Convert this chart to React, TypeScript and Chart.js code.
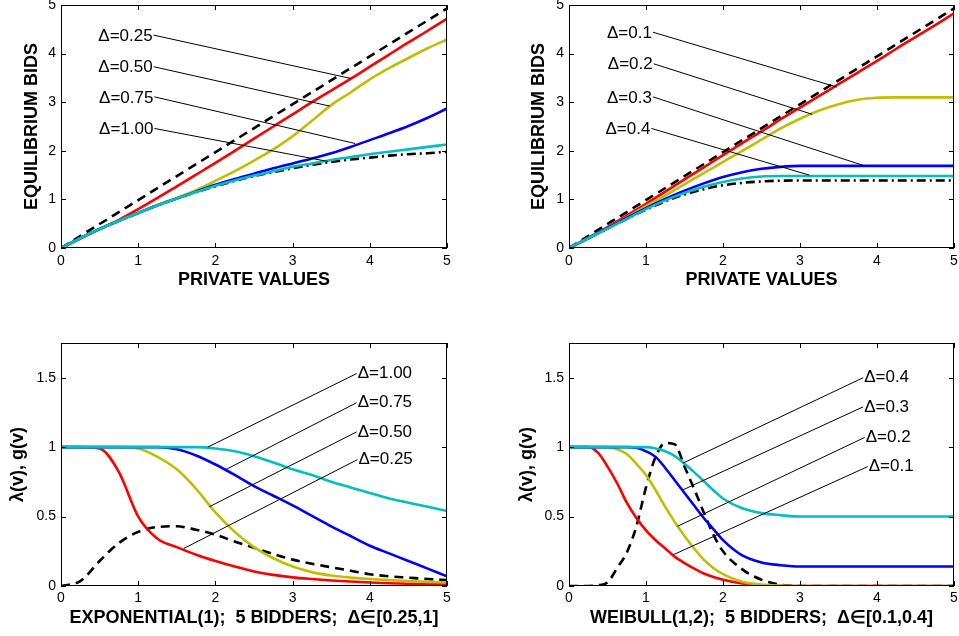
import React, { useEffect, useRef } from "react";
import { Chart, registerables } from "chart.js";
Chart.register(...registerables);

const FONT = "'Liberation Sans', Arial, Helvetica, sans-serif";

// ---------- ticks ----------
const valueTicks = [0, 1, 2, 3, 4, 5];
const bidTicks = [0, 1, 2, 3, 4, 5];
const lambdaTicks = [0, 0.5, 1, 1.5];

// ---------- shared x grids ----------
const gridX = [0, 0.25, 0.5, 0.75, 1, 1.25, 1.5, 1.75, 2, 2.25, 2.5, 2.75, 3, 3.25, 3.5, 3.75, 4, 4.25, 4.5, 4.75, 5];
const diagX = [0, 5];
const diagY = [0, 4.93];

// ---------- top-left: exponential bids ----------
const expBidBase = [0, 0.2, 0.39, 0.56, 0.72, 0.88, 1.02, 1.15, 1.27, 1.38, 1.48, 1.56, 1.64, 1.71, 1.77, 1.82, 1.86, 1.9, 1.93, 1.95, 1.98];
const expBid100 = [0, 0.2, 0.39, 0.56, 0.72, 0.88, 1.02, 1.15, 1.28, 1.39, 1.49, 1.58, 1.67, 1.74, 1.81, 1.87, 1.93, 1.98, 2.03, 2.08, 2.13];
const expBid075 = [0, 0.2, 0.39, 0.56, 0.72, 0.88, 1.02, 1.16, 1.3, 1.42, 1.53, 1.64, 1.74, 1.84, 1.95, 2.08, 2.22, 2.36, 2.51, 2.68, 2.87];
const expBid050 = [0, 0.2, 0.39, 0.56, 0.72, 0.88, 1.03, 1.19, 1.38, 1.58, 1.8, 2.03, 2.3, 2.62, 2.94, 3.2, 3.47, 3.7, 3.91, 4.11, 4.29];
const expBid025 = [0, 0.2, 0.39, 0.58, 0.8, 1.03, 1.27, 1.51, 1.75, 2.0, 2.25, 2.5, 2.75, 3.0, 3.24, 3.48, 3.73, 3.98, 4.23, 4.47, 4.72];

// ---------- top-right: weibull bids ----------
const weiBidBase = [0, 0.2, 0.4, 0.6, 0.79, 0.96, 1.1, 1.21, 1.29, 1.34, 1.37, 1.385, 1.39, 1.39, 1.39, 1.39, 1.39, 1.39, 1.39, 1.39, 1.39];
const weiBid04 = [0, 0.2, 0.4, 0.6, 0.8, 0.98, 1.13, 1.26, 1.36, 1.43, 1.47, 1.48, 1.48, 1.48, 1.48, 1.48, 1.48, 1.48, 1.48, 1.48, 1.48];
const weiBid03 = [0, 0.2, 0.41, 0.62, 0.82, 1.01, 1.18, 1.33, 1.46, 1.56, 1.63, 1.67, 1.69, 1.69, 1.69, 1.69, 1.69, 1.69, 1.69, 1.69, 1.69];
const weiBid02 = [0, 0.2, 0.41, 0.63, 0.86, 1.08, 1.31, 1.54, 1.77, 2.0, 2.23, 2.46, 2.66, 2.83, 2.96, 3.05, 3.09, 3.1, 3.1, 3.1, 3.1];
const weiBid01 = [0, 0.21, 0.43, 0.67, 0.91, 1.16, 1.41, 1.66, 1.91, 2.16, 2.4, 2.65, 2.89, 3.13, 3.37, 3.61, 3.85, 4.1, 4.34, 4.58, 4.83];

// ---------- bottom-left: exponential lambda / density ----------
const expG = [0, 0.035, 0.18, 0.31, 0.39, 0.425, 0.43, 0.405, 0.37, 0.32, 0.275, 0.23, 0.19, 0.16, 0.135, 0.11, 0.085, 0.07, 0.06, 0.05, 0.043];
const expLam100 = [1, 1, 1, 1, 1, 1, 1, 1, 0.99, 0.97, 0.935, 0.89, 0.84, 0.8, 0.75, 0.71, 0.67, 0.63, 0.6, 0.57, 0.54];
const expLam075 = [1, 1, 1, 1, 1, 1, 0.985, 0.94, 0.875, 0.8, 0.72, 0.65, 0.58, 0.505, 0.43, 0.36, 0.29, 0.235, 0.18, 0.125, 0.07];
const expLam050 = [1, 1, 1, 1, 0.99, 0.93, 0.84, 0.7, 0.53, 0.39, 0.28, 0.2, 0.14, 0.1, 0.075, 0.06, 0.05, 0.042, 0.036, 0.03, 0.025];
const expLam025 = [1, 1, 0.99, 0.82, 0.5, 0.34, 0.28, 0.225, 0.18, 0.14, 0.105, 0.08, 0.062, 0.05, 0.04, 0.032, 0.025, 0.02, 0.016, 0.013, 0.01];

// ---------- bottom-right: weibull lambda / density ----------
const brX = [0, 0.25, 0.375, 0.5, 0.625, 0.75, 0.875, 1, 1.125, 1.25, 1.375, 1.5, 1.625, 1.75, 1.875, 2, 2.25, 2.5, 2.75, 3, 3.5, 4, 4.5, 5];
const weiG = [0, 0, 0.005, 0.025, 0.13, 0.24, 0.43, 0.71, 0.93, 1.03, 1.02, 0.86, 0.7, 0.53, 0.37, 0.25, 0.12, 0.045, 0.01, 0, 0, 0, 0, 0];
const weiLam04 = [1, 1, 1, 1, 1, 1, 1, 1, 0.99, 0.97, 0.935, 0.88, 0.82, 0.755, 0.69, 0.63, 0.56, 0.525, 0.51, 0.5, 0.5, 0.5, 0.5, 0.5];
const weiLam03 = [1, 1, 1, 1, 1, 1, 0.995, 0.97, 0.93, 0.85, 0.76, 0.67, 0.58, 0.49, 0.41, 0.33, 0.22, 0.17, 0.15, 0.14, 0.14, 0.14, 0.14, 0.14];
const weiLam02 = [1, 1, 1, 1, 0.985, 0.95, 0.88, 0.8, 0.69, 0.57, 0.46, 0.36, 0.27, 0.19, 0.13, 0.085, 0.03, 0.01, 0.003, 0, 0, 0, 0, 0];
const weiLam01 = [1, 1, 0.96, 0.86, 0.74, 0.6, 0.49, 0.4, 0.33, 0.27, 0.21, 0.165, 0.125, 0.09, 0.065, 0.045, 0.018, 0.005, 0.001, 0, 0, 0, 0, 0];

// ---------- annotation labels (data coordinates) ----------
const tlNoteText = ["Δ=0.25", "Δ=0.50", "Δ=0.75", "Δ=1.00"];
const tlNoteAnchor = [[1.2, 4.38], [1.2, 3.73], [1.21, 3.11], [1.21, 2.46]];
const tlNoteTarget = [[3.75, 3.49], [3.48, 2.92], [3.81, 2.15], [3.46, 1.78]];

const trNoteText = ["Δ=0.1", "Δ=0.2", "Δ=0.3", "Δ=0.4"];
const trNoteAnchor = [[1.09, 4.44], [1.1, 3.79], [1.09, 3.11], [1.07, 2.46]];
const trNoteTarget = [[3.48, 3.31], [3.16, 2.75], [3.84, 1.69], [3.12, 1.5]];

const blNoteText = ["Δ=1.00", "Δ=0.75", "Δ=0.50", "Δ=0.25"];
const blNoteAnchor = [[3.83, 1.53], [3.83, 1.32], [3.83, 1.11], [3.84, 0.91]];
const blNoteTarget = [[1.9, 1.0], [2.14, 0.84], [1.92, 0.57], [1.59, 0.27]];

const brNoteText = ["Δ=0.4", "Δ=0.3", "Δ=0.2", "Δ=0.1"];
const brNoteAnchor = [[3.82, 1.5], [3.82, 1.29], [3.84, 1.07], [3.88, 0.86]];
const brNoteTarget = [[1.48, 0.885], [1.47, 0.69], [1.41, 0.43], [1.35, 0.224]];

// ---------- styles ----------
const RED = "#ff0000";
const YEL = "#bfbf00";
const BLU = "#0000ff";
const CYA = "#00bfbf";
const BLK = "#000000";
const DASH = [9, 6];
const DASHDOT = [9, 4, 2, 4];

function pts(x: number[], y: number[]) {
  return x.map((v, i) => ({ x: v, y: y[i] }));
}

function ds(x: number[], y: number[], color: string, dash?: number[]) {
  return {
    data: pts(x, y),
    borderColor: color,
    borderWidth: 2.6,
    borderDash: dash || [],
    fill: false,
    pointRadius: 0,
    cubicInterpolationMode: "monotone",
  };
}

const framePlugin = {
  id: "frame",
  afterDatasetsDraw(chart: any) {
    const { ctx, chartArea: a, scales } = chart;
    ctx.save();
    ctx.strokeStyle = "#000";
    ctx.lineWidth = 1;
    ctx.setLineDash([]);
    ctx.strokeRect(a.left + 0.5, a.top + 0.5, a.right - a.left - 1, a.bottom - a.top - 1);
    const L = 5;
    ctx.beginPath();
    for (const t of scales.x.ticks) {
      const p = Math.round(scales.x.getPixelForValue(t.value)) + 0.5;
      ctx.moveTo(p, a.bottom);
      ctx.lineTo(p, a.bottom - L);
      ctx.moveTo(p, a.top);
      ctx.lineTo(p, a.top + L);
    }
    for (const t of scales.y.ticks) {
      const p = Math.round(scales.y.getPixelForValue(t.value)) + 0.5;
      ctx.moveTo(a.left, p);
      ctx.lineTo(a.left + L, p);
      ctx.moveTo(a.right, p);
      ctx.lineTo(a.right - L, p);
    }
    ctx.stroke();
    ctx.restore();
  },
};

const notesPlugin = {
  id: "notes",
  afterDraw(chart: any, _args: any, opts: any) {
    if (!opts || !opts.text) return;
    const { ctx, scales } = chart;
    ctx.save();
    ctx.strokeStyle = "#000";
    ctx.lineWidth = 1;
    ctx.setLineDash([]);
    ctx.fillStyle = "#000";
    ctx.font = `17px ${FONT}`;
    ctx.textBaseline = "middle";
    opts.text.forEach((t: string, i: number) => {
      const ax = scales.x.getPixelForValue(opts.anchor[i][0]);
      const ay = scales.y.getPixelForValue(opts.anchor[i][1]);
      const tx = scales.x.getPixelForValue(opts.target[i][0]);
      const ty = scales.y.getPixelForValue(opts.target[i][1]);
      ctx.beginPath();
      ctx.moveTo(ax, ay);
      ctx.lineTo(tx, ty);
      ctx.stroke();
      if (opts.side === "left") {
        ctx.textAlign = "right";
        ctx.fillText(t, ax - 1, ay + 1);
      } else {
        ctx.textAlign = "left";
        ctx.fillText(t, ax + 1, ay);
      }
    });
    ctx.restore();
  },
};

type Panel = {
  ox: number; oy: number; cw: number; ch: number;
  area: [number, number, number, number]; // page coords L,T,R,B
  yMax: number; yTicks: number[]; xTitle: string; yTitle: string;
  yTitleCenter: number; xTitleCenter: number; xTickPad: number;
  datasets: any[]; notes: any;
};

function makeConfig(p: Panel) {
  const left = p.area[0] - p.ox;
  const top = p.area[1] - p.oy;
  const right = p.area[2] - p.ox;
  const bottom = p.area[3] - p.oy;
  const xAxisH = p.ch - bottom;
  const titleLH = 18 * 1.2;
  const yTitlePad = p.yTitleCenter - p.ox - titleLH / 2;
  const xTitlePad = p.ch - (p.xTitleCenter - p.oy) - titleLH / 2;
  return {
    type: "line",
    data: { datasets: p.datasets },
    options: {
      responsive: false,
      animation: false,
      devicePixelRatio: 1,
      layout: { padding: { left: 0, top, right: p.cw - right, bottom: 0 } },
      plugins: {
        legend: { display: false },
        tooltip: { enabled: false },
        notes: p.notes,
      },
      elements: { point: { radius: 0 } },
      scales: {
        x: {
          type: "linear",
          min: 0,
          max: 5,
          afterBuildTicks: (s: any) => { s.ticks = valueTicks.map((v) => ({ value: v })); },
          afterFit: (s: any) => { s.height = xAxisH; },
          grid: { display: false, drawTicks: false },
          border: { display: false },
          ticks: {
            padding: p.xTickPad, color: "#000", font: { family: FONT, size: 14 }, maxRotation: 0, autoSkip: false,
            callback: (v: any) => String(v),
          },
          title: {
            display: true, text: p.xTitle, color: "#000",
            font: { family: FONT, size: 18, weight: "bold", lineHeight: 1.2 },
            padding: { top: 0, bottom: xTitlePad },
          },
        },
        y: {
          type: "linear",
          position: "left",
          min: 0,
          max: p.yMax,
          afterBuildTicks: (s: any) => { s.ticks = p.yTicks.map((v) => ({ value: v })); },
          afterFit: (s: any) => { s.width = left; },
          grid: { display: false, drawTicks: false },
          border: { display: false },
          ticks: {
            padding: 5, color: "#000", font: { family: FONT, size: 14 }, autoSkip: false,
            callback: (v: any) => String(v),
          },
          title: {
            display: true, text: p.yTitle, color: "#000",
            font: { family: FONT, size: 18, weight: "bold", lineHeight: 1.2 },
            padding: { top: yTitlePad, bottom: 0 },
          },
        },
      },
    },
    plugins: [framePlugin, notesPlugin],
  };
}

const panels: Panel[] = [
  {
    ox: 0, oy: -10, cw: 480, ch: 318, area: [61, 5, 447, 248],
    yMax: 5, yTicks: bidTicks, xTitle: "PRIVATE VALUES", yTitle: "EQUILIBRIUM BIDS",
    yTitleCenter: 31.7, xTitleCenter: 280, xTickPad: 5,
    datasets: [
      ds(gridX, expBid100, CYA),
      ds(gridX, expBid075, BLU),
      ds(gridX, expBid050, YEL),
      ds(gridX, expBid025, RED),
      ds(gridX, expBidBase, BLK, DASHDOT),
      ds(diagX, diagY, BLK, DASH),
    ],
    notes: { text: tlNoteText, anchor: tlNoteAnchor, target: tlNoteTarget, side: "left" },
  },
  {
    ox: 480, oy: -10, cw: 500, ch: 318, area: [569, 5, 954, 248],
    yMax: 5, yTicks: bidTicks, xTitle: "PRIVATE VALUES", yTitle: "EQUILIBRIUM BIDS",
    yTitleCenter: 538.7, xTitleCenter: 280, xTickPad: 5,
    datasets: [
      ds(gridX, weiBid04, CYA),
      ds(gridX, weiBid03, BLU),
      ds(gridX, weiBid02, YEL),
      ds(gridX, weiBid01, RED),
      ds(gridX, weiBidBase, BLK, DASHDOT),
      ds(diagX, diagY, BLK, DASH),
    ],
    notes: { text: trNoteText, anchor: trNoteAnchor, target: trNoteTarget, side: "left" },
  },
  {
    ox: 0, oy: 318, cw: 480, ch: 318, area: [61, 343, 447, 586],
    yMax: 1.75, yTicks: lambdaTicks, xTitle: "EXPONENTIAL(1);  5 BIDDERS;  Δ∈[0.25,1]", yTitle: "λ(v), g(v)",
    yTitleCenter: 18.3, xTitleCenter: 618, xTickPad: 4,
    datasets: [
      ds(gridX, expLam100, CYA),
      ds(gridX, expLam075, BLU),
      ds(gridX, expLam050, YEL),
      ds(gridX, expLam025, RED),
      ds(gridX, expG, BLK, DASH),
    ],
    notes: { text: blNoteText, anchor: blNoteAnchor, target: blNoteTarget, side: "right" },
  },
  {
    ox: 480, oy: 318, cw: 500, ch: 318, area: [569, 343, 954, 586],
    yMax: 1.75, yTicks: lambdaTicks, xTitle: "WEIBULL(1,2);  5 BIDDERS;  Δ∈[0.1,0.4]", yTitle: "λ(v), g(v)",
    yTitleCenter: 526.7, xTitleCenter: 618, xTickPad: 4,
    datasets: [
      ds(brX, weiLam04, CYA),
      ds(brX, weiLam03, BLU),
      ds(brX, weiLam02, YEL),
      ds(brX, weiLam01, RED),
      ds(brX, weiG, BLK, DASH),
    ],
    notes: { text: brNoteText, anchor: brNoteAnchor, target: brNoteTarget, side: "right" },
  },
];

export default function App() {
  const refs = useRef<(HTMLCanvasElement | null)[]>([]);
  useEffect(() => {
    const charts = panels.map((p, i) => new Chart(refs.current[i] as HTMLCanvasElement, makeConfig(p) as any));
    return () => charts.forEach((c) => c.destroy());
  }, []);
  return (
    <div style={{ position: "absolute", left: 0, top: 0, width: 959, height: 636, overflow: "hidden", background: "#fff" }}>
      {panels.map((p, i) => (
        <canvas
          key={i}
          ref={(el) => { refs.current[i] = el; }}
          width={p.cw}
          height={p.ch}
          style={{ position: "absolute", left: p.ox, top: p.oy, width: p.cw, height: p.ch }}
        />
      ))}
    </div>
  );
}
